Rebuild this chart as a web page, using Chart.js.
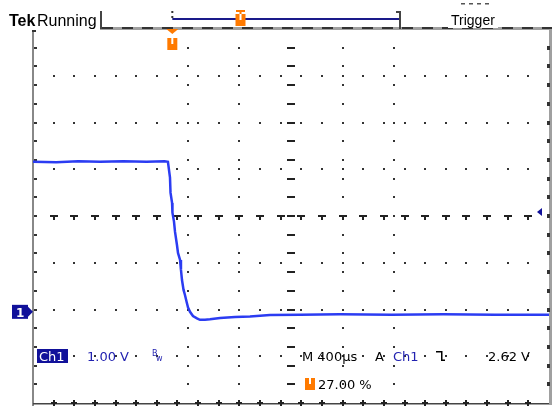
<!DOCTYPE html>
<html>
<head>
<meta charset="utf-8">
<script src="https://cdn.jsdelivr.net/npm/chart.js@4.4.1/dist/chart.umd.min.js"></script>
<style>
  html, body { margin: 0; padding: 0; background: #fff; }
  canvas { display: block; }
</style>
</head>
<body>
<canvas id="scope" width="552" height="408"></canvas>
<script>
// ── Datos ──────────────────────────────────────────────────────────────────
const timeUs = [-1080, -900, -730, -560, -380, -200, -60, -34,
  -18, -14, -2, 1, 13, 21, 36, 44, 60, 67, 75, 87, 98, 111, 122, 137,
  160, 191, 214, 253, 292, 370, 486, 602, 757, 990, 1300, 1700, 2100, 2500, 2920];
const ch1Volts = [3.21, 3.20, 3.22, 3.21, 3.22, 3.21, 3.22, 3.21,
  2.87, 2.55, 2.33, 2.12, 1.93, 1.71, 1.43, 1.26, 1.11, 0.90, 0.68, 0.47, 0.36, 0.21, 0.09, 0.00,
  -0.09, -0.14, -0.17, -0.17, -0.16, -0.13, -0.11, -0.10, -0.07, -0.06, -0.05, -0.06, -0.05, -0.06, -0.06];

const timePerDiv = 400;      // M 400µs
const voltsPerDiv = 1.0;     // Ch1 1.00 V
const triggerPct = 27.0;
const horizDivs = 10;
const vertDivs = 8;
const groundDivsFromBottom = 1.95;
const dottedVLines = [3, 4, 6, 7];

const statusText = 'Running';
const ch1Scale = '1.00 V';
const timebase = '400\u00b5s';
const trigLevel = '2.62 V';
const trigPos = '27.00 %';

const xMin = -timePerDiv * horizDivs * triggerPct / 100;
const xMax = xMin + timePerDiv * horizDivs;
const yMin = -groundDivsFromBottom * voltsPerDiv;
const yMax = yMin + vertDivs * voltsPerDiv;

const BLUE_TRACE = '#2b3cf2';
const BLUE_TEXT = '#2222b0';
const NAVY = '#11119a';
const ORANGE = '#ff7a00';

// ── Retícula ────────────────────────────────────────────────────────────────
function xAt(chart, div) {
  const s = chart.scales.x;
  return s.getPixelForValue(s.min + div * timePerDiv);
}
function yAt(chart, div) {
  const s = chart.scales.y;
  return s.getPixelForValue(s.max - div * voltsPerDiv);
}

function trigIcon(ctx, x, y) {
  ctx.fillStyle = ORANGE;
  ctx.fillRect(x, y, 10, 12);
  ctx.fillStyle = '#fff';
  ctx.fillRect(x + 4, y, 2, 6);
}

const graticule = {
  id: 'graticule',
  beforeDatasetsDraw(chart) {
    const ctx = chart.ctx;
    const a = chart.chartArea;
    ctx.save();
    const step = 0.4;

    // líneas horizontales punteadas
    ctx.fillStyle = '#333';
    for (let k = 1; k < vertDivs; k++) {
      if (k === vertDivs / 2) continue;
      const y = Math.round(yAt(chart, k));
      for (let j = 1; j * step < horizDivs; j++) {
        const x = Math.round(xAt(chart, j * step));
        ctx.fillRect(x - 1, y - 1, 2, 2);
      }
    }
    // líneas verticales punteadas
    dottedVLines.forEach(k => {
      const x = Math.round(xAt(chart, k));
      for (let j = 1; j * step < vertDivs; j++) {
        const y = Math.round(yAt(chart, j * step));
        ctx.fillRect(x - 1, y - 1, 2, 2);
      }
    });

    // eje central horizontal
    const yc = Math.round(yAt(chart, vertDivs / 2));
    ctx.fillStyle = '#222';
    for (let j = 1; j * step < horizDivs; j++) {
      const x = Math.round(xAt(chart, j * step));
      ctx.fillRect(x - 4, yc - 1, 8, 2);
      ctx.fillRect(x - 1, yc, 2, 4);
    }
    // eje central vertical
    const xc = Math.round(xAt(chart, horizDivs / 2));
    for (let j = 1; j * step < vertDivs; j++) {
      const y = Math.round(yAt(chart, j * step));
      ctx.fillRect(xc - 4, y - 1, 8, 2);
    }

    // borde izquierdo
    ctx.fillStyle = '#888';
    ctx.fillRect(a.left - 1, a.top + 1, 2, a.bottom - a.top + 2);
    ctx.fillStyle = '#333';
    ctx.fillRect(a.left - 1, a.top + 1, 4, 2);
    for (let j = 1; j * step < vertDivs; j++) {
      const y = Math.round(yAt(chart, j * step));
      ctx.fillRect(a.left + 1, y - 1, 3, 2);
    }
    // borde derecho
    ctx.fillStyle = '#a0a0a0';
    ctx.fillRect(a.right, a.top - 1, 3, a.bottom - a.top + 3);
    ctx.fillStyle = '#333';
    for (let j = 1; j * step < vertDivs; j++) {
      const y = Math.round(yAt(chart, j * step));
      ctx.fillRect(a.right - 2, y - 2, 3, 4);
    }
    // borde superior
    ctx.fillStyle = '#a0a0a0';
    ctx.fillRect(100, a.top - 2, chart.width - 100, 3);
    ctx.fillStyle = '#333';
    for (let x = 102; x < chart.width - 4; x += 20) {
      ctx.fillRect(x, a.top - 2, 11, 2);
    }
    // borde inferior
    ctx.fillStyle = '#444';
    ctx.fillRect(a.left, a.bottom, a.right - a.left, 1.5);
    ctx.fillStyle = '#222';
    for (let j = 1; j * step < horizDivs; j++) {
      const x = Math.round(xAt(chart, j * step));
      ctx.fillRect(x - 1, a.bottom - 3, 2, 6);
      ctx.fillRect(x - 3, a.bottom - 1, 6, 2);
    }
    ctx.restore();
  },

  afterDraw(chart) {
    const ctx = chart.ctx;
    const a = chart.chartArea;
    ctx.save();
    ctx.textBaseline = 'alphabetic';

    // barra superior
    ctx.fillStyle = '#000';
    ctx.font = 'bold 16px "Liberation Sans", Arial, sans-serif';
    ctx.fillText('Tek', 9, 26);
    ctx.font = '16px "Liberation Sans", Arial, sans-serif';
    ctx.fillText(statusText, 37, 26);

    // registro / vista
    const xTrig = xAt(chart, horizDivs * triggerPct / 100);
    ctx.fillStyle = '#444';
    ctx.fillRect(100, 11, 2, 18);
    ctx.fillRect(399, 11, 2, 18);
    ctx.fillRect(396, 11, 4, 2);
    ctx.fillStyle = '#1a1a8a';
    ctx.fillRect(xTrig, 18, 399 - xTrig, 2);
    ctx.fillStyle = '#333';
    ctx.fillRect(xTrig - 1, 11, 2, 2);
    ctx.fillRect(xTrig - 1, 16, 2, 2);
    ctx.fillStyle = ORANGE;
    ctx.fillRect(236, 10, 9, 2);
    ctx.fillRect(239.5, 10, 2, 5);
    trigIcon(ctx, 235.5, 14);

    // "Trigger"
    ctx.fillStyle = '#fff';
    ctx.fillRect(448, 10, 50, 18);
    ctx.fillStyle = '#000';
    ctx.font = '14px "Liberation Sans", Arial, sans-serif';
    ctx.fillText('Trigger', 451, 25);
    ctx.fillStyle = '#555';
    for (let x = 461; x < 492; x += 8) ctx.fillRect(x, 3, 4, 1.5);

    // marca de disparo en la retícula
    ctx.fillStyle = ORANGE;
    ctx.beginPath();
    ctx.moveTo(xTrig - 6, a.top);
    ctx.lineTo(xTrig + 6, a.top);
    ctx.lineTo(xTrig, a.top + 5);
    ctx.closePath();
    ctx.fill();
    trigIcon(ctx, xTrig - 5, a.top + 9);

    // marcador de tierra Ch1
    const yG = chart.scales.y.getPixelForValue(0);
    ctx.fillStyle = NAVY;
    ctx.fillRect(12, yG - 7, 16, 14);
    ctx.beginPath();
    ctx.moveTo(28, yG - 5);
    ctx.lineTo(33, yG);
    ctx.lineTo(28, yG + 5);
    ctx.closePath();
    ctx.fill();
    ctx.fillStyle = '#fff';
    ctx.font = 'bold 12px "DejaVu Sans", sans-serif';
    ctx.fillText('1', 16, yG + 5);

    // nivel de disparo (derecha)
    ctx.fillStyle = NAVY;
    ctx.beginPath();
    ctx.moveTo(537, 212);
    ctx.lineTo(542, 208);
    ctx.lineTo(542, 216);
    ctx.closePath();
    ctx.fill();

    // lecturas inferiores
    const yRow1 = 361, yRow2 = 389;
    ctx.font = '13px "DejaVu Sans", sans-serif';
    ctx.fillStyle = NAVY;
    ctx.fillRect(37, 349, 31, 14);
    ctx.fillStyle = '#fff';
    ctx.fillText('Ch1', 39, yRow1);
    ctx.fillStyle = BLUE_TEXT;
    ctx.fillText(ch1Scale, 87, yRow1);
    ctx.font = '8px "DejaVu Sans", sans-serif';
    ctx.fillText('B', 152, yRow1 - 5);
    ctx.fillText('w', 156, yRow1);

    ctx.font = '13px "DejaVu Sans", sans-serif';
    ctx.fillStyle = '#000';
    ctx.fillText('M ' + timebase, 302, yRow1);
    ctx.fillText('A', 375, yRow1);
    ctx.fillStyle = BLUE_TEXT;
    ctx.fillText('Ch1', 393, yRow1);
    // pendiente descendente
    ctx.fillStyle = '#000';
    ctx.fillRect(436, 351, 6, 1.5);
    ctx.fillRect(441, 351, 1.5, 10);
    ctx.fillRect(441, 359.5, 4, 1.5);
    ctx.fillText(trigLevel, 488, yRow1);

    trigIcon(ctx, 305, yRow2 - 11);
    ctx.fillStyle = '#000';
    ctx.fillText(trigPos, 318, yRow2);
    ctx.restore();
  }
};

// ── Gráfica ────────────────────────────────────────────────────────────────
const ctx = document.getElementById('scope').getContext('2d');
new Chart(ctx, {
  type: 'line',
  data: {
    datasets: [{
      label: 'Ch1',
      data: timeUs.map((t, i) => ({ x: t, y: ch1Volts[i] })),
      borderColor: BLUE_TRACE,
      borderWidth: 2.5,
      pointRadius: 0,
      tension: 0,
      fill: false
    }]
  },
  options: {
    responsive: false,
    animation: false,
    layout: { padding: { left: 33, right: 3, top: 29, bottom: 5 } },
    plugins: { legend: { display: false }, tooltip: { enabled: false } },
    scales: {
      x: { type: 'linear', min: xMin, max: xMax, display: false },
      y: { type: 'linear', min: yMin, max: yMax, display: false }
    }
  },
  plugins: [graticule]
});
</script>
</body>
</html>
